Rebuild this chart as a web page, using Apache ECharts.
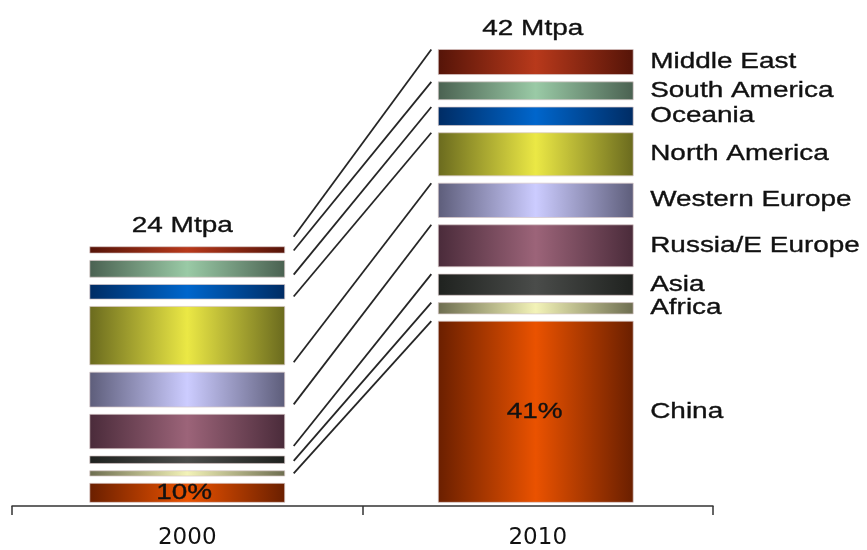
<!DOCTYPE html>
<html>
<head>
<meta charset="utf-8">
<title>Mtpa by region, 2000 vs 2010</title>
<script src="https://cdn.jsdelivr.net/npm/echarts@6/dist/echarts.min.js"></script>
<style>
  html, body { margin: 0; padding: 0; background: #ffffff; }
  #chart { width: 867px; height: 550px; }
</style>
</head>
<body>
<div id="chart"></div>
<script>
// ---- data (stacked bottom to top) ----
const years = ['2000', '2010'];
const regions = ['China', 'Africa', 'Asia', 'Russia/E Europe', 'Western Europe',
                 'North America', 'Oceania', 'South America', 'Middle East'];
const volume2000 = [2.4, 1.15, 1.35, 3.8, 3.85, 6.0, 2.0, 2.2, 1.25];
const volume2010 = [17.2, 1.7, 2.6, 4.5, 3.8, 4.6, 2.35, 2.3, 2.95];
const unit = 'Mtpa';
const highlightRegion = 'China';

// ---- palette: [edge, centre] of each horizontal shading ----
const shades = [
  ['#6a1f00', '#ea5200'], // China
  ['#6d6d50', '#f3f3b8'], // Africa
  ['#1f221f', '#4a4c4a'], // Asia
  ['#4a2b3a', '#9c6479'], // Russia/E Europe
  ['#5d5d7a', '#ccccff'], // Western Europe
  ['#6a6a1e', '#ebe845'], // North America
  ['#002c64', '#0066cc'], // Oceania
  ['#4a6151', '#9acaa6'], // South America
  ['#551408', '#b8391b']  // Middle East
];

const GAP = 3.65;          // half of the white gap between stacked blocks
const BAR_RATIO = 0.556;   // bar width as share of the category band
const FONT_FAMILY = '"Liberation Sans", Arial, sans-serif';
const FONT_SIZE = 22;
const TEXT_STRETCH = 1.27;
const TEXT_COLOR = '#111111';

function cumulative(values) {
  let acc = 0;
  return values.map(v => { const s = [acc, acc + v]; acc += v; return s; });
}
const stack2000 = cumulative(volume2000);
const stack2010 = cumulative(volume2010);
const stacks = [stack2000, stack2010];
const totals = [volume2000, volume2010].map(a => a.reduce((s, v) => s + v, 0));
const hi = regions.indexOf(highlightRegion);

function shading(ri) {
  const [edge, centre] = shades[ri];
  return new echarts.graphic.LinearGradient(0, 0, 1, 0, [
    { offset: 0, color: edge },
    { offset: 0.5, color: centre },
    { offset: 1, color: edge }
  ]);
}

function stretchedText(x, y, text, align) {
  return {
    type: 'text', x: x, y: y, scaleX: TEXT_STRETCH,
    style: {
      x: 0, y: 0, text: text,
      fontFamily: FONT_FAMILY, fontSize: FONT_SIZE,
      fill: TEXT_COLOR, stroke: TEXT_COLOR, lineWidth: 0.35,
      align: align, verticalAlign: 'middle'
    }
  };
}

// ---- series data ----
const blockData = [];
stacks.forEach((st, yi) => st.forEach((s, ri) => blockData.push([yi, s[0], s[1], ri])));

const linkData = regions.map((r, ri) => [0, stack2000[ri][1], stack2010[ri][1], ri]);
const regionLabelData = regions.map((r, ri) => [1, stack2010[ri][0], stack2010[ri][1], ri]);
const totalData = totals.map((t, yi) => [yi, t]);
const shareData = stacks.map((st, yi) => [yi, st[hi][0], st[hi][1],
  Math.round((st[hi][1] - st[hi][0]) / totals[yi] * 100)]);

const chart = echarts.init(document.getElementById('chart'), null, { renderer: 'canvas' });

chart.setOption({
  animation: false,
  backgroundColor: '#ffffff',
  grid: { left: 12, right: 154, top: 13, bottom: 41 },
  xAxis: {
    type: 'category',
    data: years,
    boundaryGap: true,
    axisLine: { lineStyle: { color: '#333333', width: 1.5 } },
    axisTick: { show: true, interval: 0, length: 9, lineStyle: { color: '#333333', width: 1.5 } },
    axisLabel: { margin: 21, fontSize: 23, fontFamily: '"DejaVu Sans", sans-serif', color: TEXT_COLOR },
    splitLine: { show: false }
  },
  yAxis: { type: 'value', min: 0, max: 45, show: false, splitLine: { show: false } },
  series: [
    {
      name: 'blocks', type: 'custom', data: blockData,
      encode: { x: 0, y: [1, 2] },
      renderItem: function (params, api) {
        const yi = api.value(0), base = api.value(1), top = api.value(2), ri = api.value(3);
        const w = api.size([1, 0])[0] * BAR_RATIO;
        const cx = api.coord([yi, 0])[0] - (yi === 1 ? 2 : 0);
        const yb = api.coord([yi, base])[1] - GAP;
        const yt = api.coord([yi, top])[1] + GAP;
        return {
          type: 'rect',
          shape: { x: cx - w / 2, y: yt, width: w, height: Math.max(0, yb - yt) },
          style: { fill: shading(ri), stroke: 'rgba(215,200,200,0.7)', lineWidth: 1 }
        };
      }
    },
    {
      name: 'links', type: 'custom', data: linkData,
      encode: { x: 0, y: [1, 2] },
      renderItem: function (params, api) {
        const w = api.size([1, 0])[0] * BAR_RATIO;
        const xl = api.coord([0, 0])[0] + w / 2 + 9;
        const xr = api.coord([1, 0])[0] - 2 - w / 2 - 7;
        const yl = api.coord([0, api.value(1)])[1] - 6.3;
        const yr = api.coord([1, api.value(2)])[1] + GAP;
        return {
          type: 'line',
          shape: { x1: xl, y1: yl, x2: xr, y2: yr },
          style: { stroke: '#262626', lineWidth: 1.8 }
        };
      }
    },
    {
      name: 'region labels', type: 'custom', data: regionLabelData,
      encode: { x: 0, y: [1, 2] },
      renderItem: function (params, api) {
        const w = api.size([1, 0])[0] * BAR_RATIO;
        const x = api.coord([1, 0])[0] - 2 + w / 2 + 17;
        const ym = (api.coord([1, api.value(1)])[1] + api.coord([1, api.value(2)])[1]) / 2;
        return stretchedText(x, ym, regions[api.value(3)], 'left');
      }
    },
    {
      name: 'totals', type: 'custom', data: totalData,
      encode: { x: 0, y: 1 },
      renderItem: function (params, api) {
        const p = api.coord([api.value(0), api.value(1)]);
        return stretchedText(p[0] - 5, p[1] - 17, Math.round(api.value(1)) + ' ' + unit, 'center');
      }
    },
    {
      name: 'share', type: 'custom', data: shareData,
      encode: { x: 0, y: [1, 2] },
      renderItem: function (params, api) {
        const yi = api.value(0);
        const x = api.coord([yi, 0])[0];
        const ym = (api.coord([yi, api.value(1)])[1] + api.coord([yi, api.value(2)])[1]) / 2;
        return stretchedText(x - 3, ym, api.value(3) + '%', 'center');
      }
    }
  ]
});
</script>
</body>
</html>
